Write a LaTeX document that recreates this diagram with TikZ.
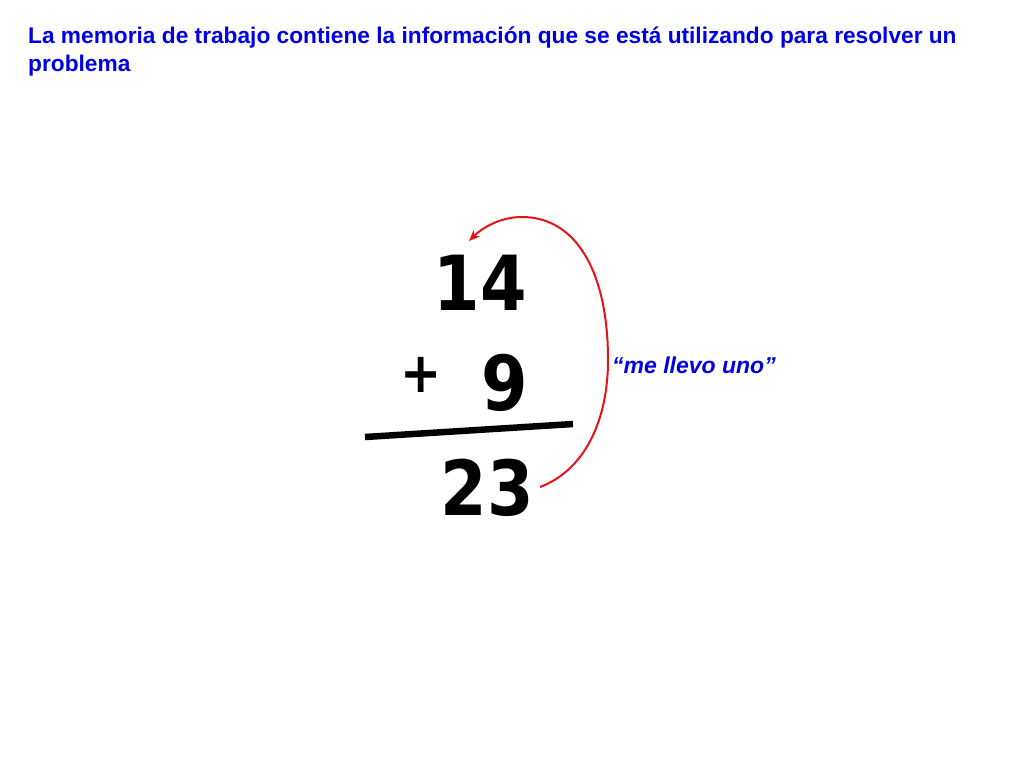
\documentclass[tikz,border=0pt]{standalone}
\usepackage{fontspec}
\setmainfont{Liberation Sans}
\newfontfamily\digitfont[FakeStretch=0.88]{DejaVu Sans}
\usetikzlibrary{arrows.meta}
\definecolor{titleblue}{RGB}{0,0,230}
\definecolor{arcred}{RGB}{230,20,20}
\begin{document}
\begin{tikzpicture}[x=1pt,y=-1pt,
  titletext/.style={anchor=base west,inner sep=0pt,font=\fontsize{22.7}{26}\selectfont\bfseries,text=titleblue},
  digits/.style={anchor=base,inner sep=0pt,font=\digitfont\fontsize{76}{80}\selectfont\bfseries},
  plussign/.style={anchor=base,inner sep=0pt,font=\digitfont\fontsize{56}{60}\selectfont\bfseries},
  carrytext/.style={anchor=base west,inner sep=0pt,font=\fontsize{23}{26}\selectfont\bfseries\itshape,text=titleblue}]
\useasboundingbox[fill=white] (0,0) rectangle (1024,768);
\node[titletext] (t1) at (28,44) {La memoria de trabajo contiene la información que se está utilizando para resolver un};
\node[titletext] (t2) at (28,71) {problema};
\node[digits] (n14) at (480,310) {14};
\node[plussign] (plus) at (421,392) {+};
\node[digits] (n9) at (505,410) {9};
\node[digits] (n23) at (487,515) {23};
\coordinate (barL) at (365,437);
\coordinate (barR) at (573,424);
\draw[line width=6.5pt] (barL) -- (barR);
\coordinate (arcstart) at (540,487);
\coordinate (arcend) at (469,241);
\draw[arcred,line width=2pt,-{Stealth[length=11pt,width=9pt]}] (arcstart) .. controls (585,470) and (608,420) .. (608,360) .. controls (608,270) and (575,217) .. (522,217) .. controls (500,217) and (482,228) .. (arcend);
\node[carrytext] (carry) at (612,373) {“me llevo uno”};
\end{tikzpicture}
\end{document}
